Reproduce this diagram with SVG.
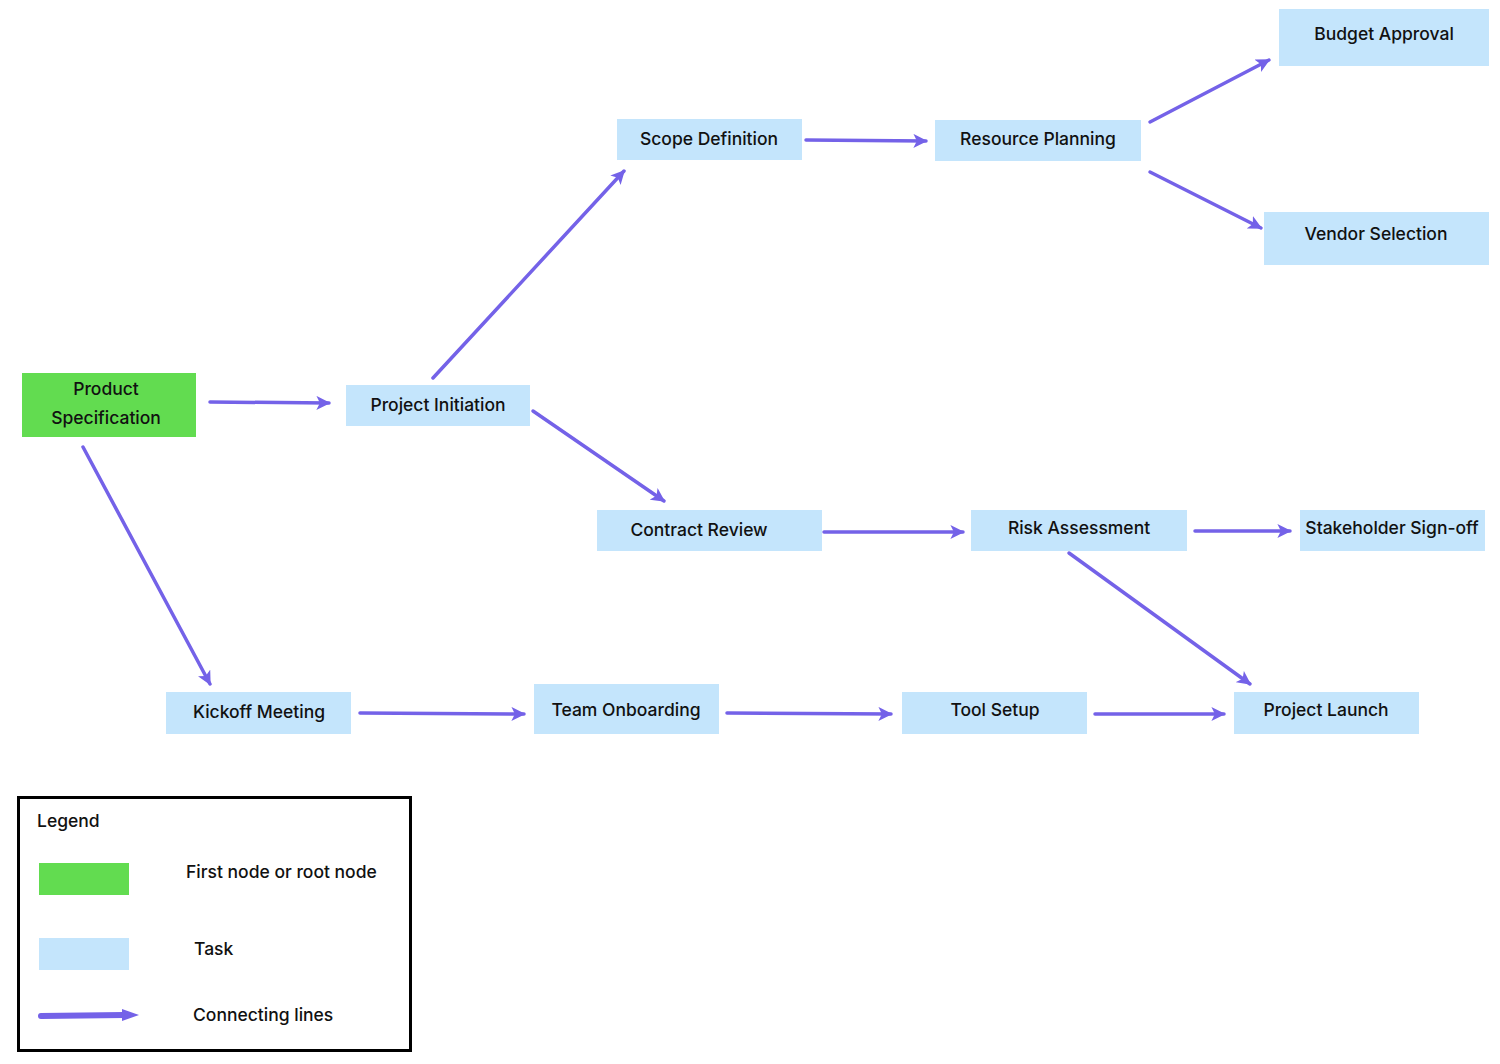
<svg xmlns="http://www.w3.org/2000/svg" width="1500" height="1064" viewBox="0 0 1500 1064">
<style>
.task{fill:#C4E5FC}
.root{fill:#62DC50}
.lbl{font-family:Inter,"Liberation Sans",sans-serif;font-size:17.5px;font-weight:500;fill:#111;text-anchor:middle;dominant-baseline:central}
.lg{font-family:Inter,"Liberation Sans",sans-serif;font-size:17.5px;font-weight:500;fill:#111;dominant-baseline:central}
.edge{stroke:#7462E8;stroke-width:3.5;fill:none;stroke-linecap:round}
</style>
<defs>
<marker id="ah" viewBox="0 0 10 10" refX="9" refY="5" markerWidth="4" markerHeight="4" markerUnits="strokeWidth" orient="auto">
<path d="M0,0 L10,5 L0,10 L2.5,5 Z" fill="#7462E8"/>
</marker>
</defs>
<rect width="1500" height="1064" fill="#fff"/>
<g id="connectors">
<line class="edge" x1="210" y1="402" x2="329" y2="403" marker-end="url(#ah)"/>
<line class="edge" x1="433" y1="378" x2="624" y2="171" marker-end="url(#ah)"/>
<line class="edge" x1="533" y1="411" x2="664" y2="501" marker-end="url(#ah)"/>
<line class="edge" x1="806" y1="140" x2="926" y2="141" marker-end="url(#ah)"/>
<line class="edge" x1="1150" y1="122" x2="1269" y2="60" marker-end="url(#ah)"/>
<line class="edge" x1="1150" y1="172" x2="1261" y2="228" marker-end="url(#ah)"/>
<line class="edge" x1="824" y1="532" x2="963" y2="532" marker-end="url(#ah)"/>
<line class="edge" x1="1195" y1="531" x2="1290" y2="531" marker-end="url(#ah)"/>
<line class="edge" x1="1069" y1="553" x2="1250" y2="684" marker-end="url(#ah)"/>
<line class="edge" x1="83" y1="447" x2="210" y2="684" marker-end="url(#ah)"/>
<line class="edge" x1="360" y1="713" x2="524" y2="714" marker-end="url(#ah)"/>
<line class="edge" x1="727" y1="713" x2="891" y2="714" marker-end="url(#ah)"/>
<line class="edge" x1="1095" y1="714" x2="1224" y2="714" marker-end="url(#ah)"/>
</g>
<g id="product-specification"><rect class="root" x="22" y="373" width="174" height="64"/><text class="lbl" x="106" y="388">Product</text><text class="lbl" x="106" y="417">Specification</text></g>
<g id="project-initiation"><rect class="task" x="346" y="385" width="184" height="41"/><text class="lbl" x="438" y="404">Project Initiation</text></g>
<g id="scope-definition"><rect class="task" x="617" y="119" width="185" height="41"/><text class="lbl" x="709" y="138">Scope Definition</text></g>
<g id="resource-planning"><rect class="task" x="935" y="120" width="206" height="41"/><text class="lbl" x="1038" y="138">Resource Planning</text></g>
<g id="budget-approval"><rect class="task" x="1279" y="9" width="210" height="57"/><text class="lbl" x="1384" y="33">Budget Approval</text></g>
<g id="vendor-selection"><rect class="task" x="1264" y="212" width="225" height="53"/><text class="lbl" x="1376" y="233">Vendor Selection</text></g>
<g id="contract-review"><rect class="task" x="597" y="510" width="225" height="41"/><text class="lbl" x="699" y="529">Contract Review</text></g>
<g id="risk-assessment"><rect class="task" x="971" y="510" width="216" height="41"/><text class="lbl" x="1079" y="527">Risk Assessment</text></g>
<g id="stakeholder-signoff"><rect class="task" x="1300" y="510" width="185" height="41"/><text class="lbl" x="1392" y="527">Stakeholder Sign-off</text></g>
<g id="kickoff-meeting"><rect class="task" x="166" y="692" width="185" height="42"/><text class="lbl" x="259" y="711">Kickoff Meeting</text></g>
<g id="team-onboarding"><rect class="task" x="534" y="684" width="185" height="50"/><text class="lbl" x="626" y="709">Team Onboarding</text></g>
<g id="tool-setup"><rect class="task" x="902" y="692" width="185" height="42"/><text class="lbl" x="995" y="709">Tool Setup</text></g>
<g id="project-launch"><rect class="task" x="1234" y="692" width="185" height="42"/><text class="lbl" x="1326" y="709">Project Launch</text></g>
<g id="legend">
<rect x="18.5" y="797.5" width="392" height="253" fill="none" stroke="#000" stroke-width="3"/>
<text class="lg" x="37" y="820">Legend</text>
<rect class="root" x="39" y="863" width="90" height="32"/>
<text class="lg" x="186" y="871">First node or root node</text>
<rect class="task" x="39" y="938" width="90" height="32"/>
<text class="lg" x="194" y="948">Task</text>
<line x1="41" y1="1016" x2="124" y2="1015" stroke="#7462E8" stroke-width="6" stroke-linecap="round"/>
<path d="M122,1009 L139,1015 L122,1021 Z" fill="#7462E8"/>
<text class="lg" x="193" y="1014">Connecting lines</text>
</g>
</svg>
